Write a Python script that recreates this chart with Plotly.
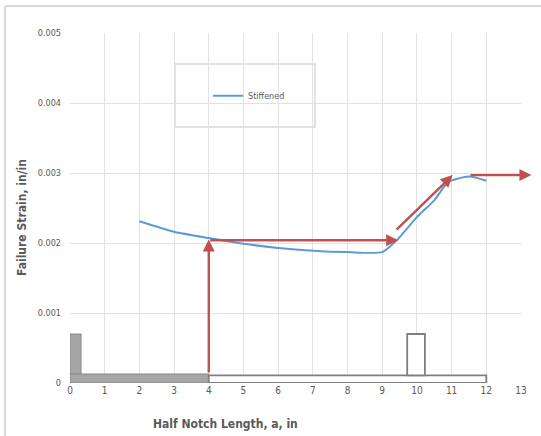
import plotly.graph_objects as go

# ---- data ----
a_in = [2, 3, 4, 5, 6, 7, 8, 9, 9.4, 10, 10.5, 10.9, 11.5, 12]
strain = [0.00231, 0.00216, 0.00207, 0.00199, 0.00193, 0.00189, 0.00187, 0.00187,
          0.00203, 0.00237, 0.00261, 0.00287, 0.00295, 0.00289]

x_ticks = list(range(0, 14))
y_ticks = [0, 0.001, 0.002, 0.003, 0.004, 0.005]
y_tick_labels = ["0", "0.001", "0.002", "0.003", "0.004", "0.005"]

# arrows: (x_start, y_start, x_end, y_end)
arrows = [
    (4, 0.00013, 4, 0.00205),
    (4, 0.00204, 9.46, 0.00204),
    (9.37, 0.00217, 11.03, 0.00297),
    (11.5, 0.00297, 13.3, 0.00297),
]

# specimen sketch rectangles: (x0, x1, y0, y1, filled)
specimen = [
    (0, 0.32, 0, 0.0007, True),
    (0, 4, 0, 0.00013, True),
    (4, 12, 0, 0.00011, False),
    (9.72, 10.23, 0.00011, 0.0007, False),
]

FONT = "Liberation Sans Narrow, DejaVu Sans Condensed, Arial Narrow, sans-serif"
RED = "#c0504d"
BLUE = "#5b9bd5"
GRID = "#e2e2e2"
TXT = "#595959"

fig = go.Figure()
fig.add_trace(go.Scatter(x=a_in, y=strain, mode="lines", name="Stiffened",
                         line=dict(color=BLUE, width=2, shape="spline", smoothing=0.6)))

shapes = []
for x0, x1, y0, y1, filled in specimen:
    shapes.append(dict(type="rect", xref="x", yref="y", x0=x0, x1=x1, y0=y0, y1=y1,
                       fillcolor="#a6a6a6" if filled else "white",
                       line=dict(color="#7f7f7f", width=1.8 if not filled else 0.8),
                       layer="above"))
# legend frame
shapes.append(dict(type="rect", xref="paper", yref="paper",
                   x0=(175 - 70) / 451, x1=(315 - 70) / 451,
                   y0=(383 - 127) / 350, y1=(383 - 64) / 350,
                   line=dict(color="#d9d9d9", width=1.5), fillcolor="white", layer="below"))
# outer chart frame (top and left)
shapes.append(dict(type="line", xref="paper", yref="paper",
                   x0=(5 - 70) / 451, x1=(541 - 70) / 451,
                   y0=(383 - 6) / 350, y1=(383 - 6) / 350,
                   line=dict(color="#d9d9d9", width=2)))
shapes.append(dict(type="line", xref="paper", yref="paper",
                   x0=(5 - 70) / 451, x1=(5 - 70) / 451,
                   y0=(383 - 6) / 350, y1=(383 - 440) / 350,
                   line=dict(color="#d9d9d9", width=2)))

annotations = []
for xs, ys, xe, ye in arrows:
    annotations.append(dict(x=xe, y=ye, ax=xs, ay=ys, xref="x", yref="y",
                            axref="x", ayref="y", text="", showarrow=True,
                            arrowhead=2, arrowsize=1.0, arrowwidth=2.4,
                            arrowcolor=RED, standoff=0))
annotations.append(dict(text="<b>Half Notch Length, a, in</b>", xref="paper", yref="paper",
                        x=(225 - 70) / 451, y=(383 - 424) / 350, showarrow=False,
                        font=dict(family=FONT, size=12, color=TXT),
                        xanchor="center", yanchor="middle"))
annotations.append(dict(text="<b>Failure Strain, in/in</b>", xref="paper", yref="paper",
                        x=(22 - 70) / 451, y=(383 - 218) / 350, showarrow=False,
                        textangle=-90, font=dict(family=FONT, size=12, color=TXT),
                        xanchor="center", yanchor="middle"))

fig.update_layout(
    width=541, height=436,
    margin=dict(l=70, r=20, t=33, b=53),
    paper_bgcolor="white", plot_bgcolor="white",
    font=dict(family=FONT, size=9, color=TXT),
    showlegend=True,
    legend=dict(x=(208 - 70) / 451, y=(383 - 95.7) / 350, xanchor="left", yanchor="middle",
                bgcolor="rgba(0,0,0,0)", borderwidth=0, itemwidth=30,
                font=dict(family=FONT, size=9, color=TXT)),
    shapes=shapes,
    annotations=annotations,
)
fig.update_xaxes(range=[0, 13], tickvals=x_ticks, showgrid=True, gridcolor=GRID,
                 gridwidth=1, zeroline=False, showline=False, ticks="",
                 tickfont=dict(family=FONT, size=10, color=TXT))
fig.update_yaxes(range=[0, 0.005], tickvals=y_ticks, ticktext=y_tick_labels,
                 showgrid=True, gridcolor=GRID, gridwidth=1, zeroline=False,
                 showline=False, ticks="", ticklabelstandoff=8,
                 tickfont=dict(family=FONT, size=9, color=TXT))

fig.write_html("out.html", config={"displayModeBar": False},
               post_script="document.body.style.margin='0';")
